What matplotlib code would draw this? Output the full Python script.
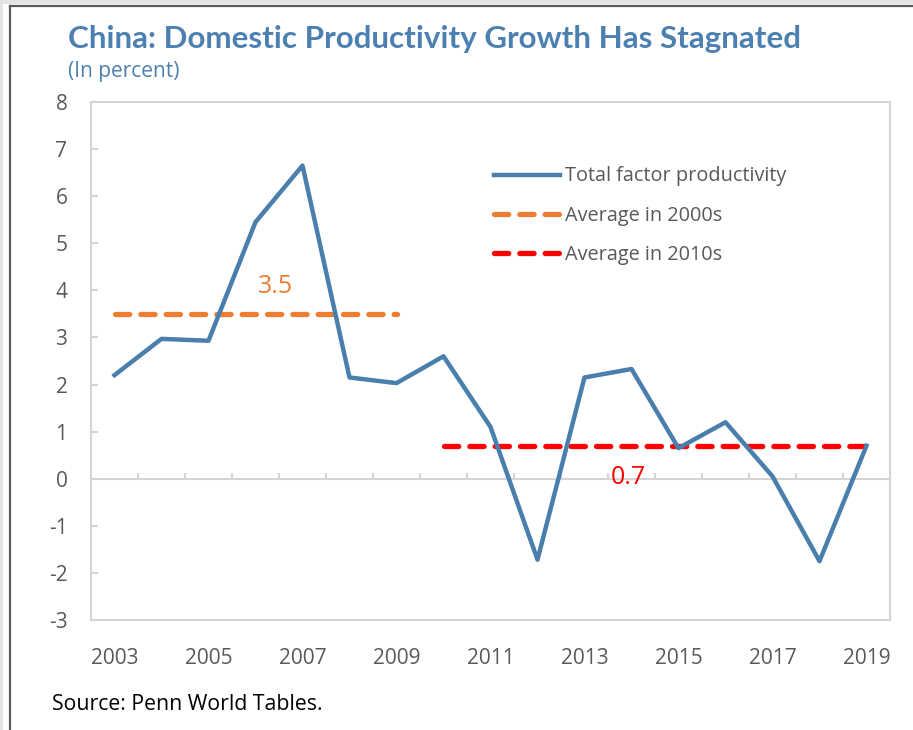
import matplotlib
matplotlib.use("Agg")
import matplotlib.pyplot as plt
from matplotlib.patches import Rectangle
from matplotlib.lines import Line2D
import numpy as np

years = list(range(2003, 2020))
tfp = [2.2, 2.97, 2.93, 5.45, 6.65, 2.15, 2.03, 2.6, 1.1, -1.72,
       2.15, 2.33, 0.65, 1.2, 0.05, -1.75, 0.7]
avg_2000s = 3.5
avg_2010s = 0.7
avg_2000s_years = (2003, 2009)
avg_2010s_years = (2010, 2019)

BLUE = "#4A7EAD"
ORANGE = "#ED7D31"
RED = "#FF0000"
TITLE = "#4C80B1"
GRID = "#D4D4D4"
TXT = "#595959"

plt.rcParams['font.family'] = ['Open Sans', 'DejaVu Sans']
plt.rcParams['axes.unicode_minus'] = False

fig = plt.figure(figsize=(9.13, 7.3), dpi=100)
W, H = 913, 730

# outer frame strips
fig.add_artist(Rectangle((0, 1 - 4 / H), 1, 4 / H, transform=fig.transFigure,
                         color="#E4E4E4", lw=0))
fig.add_artist(Rectangle((0, 0), 3 / W, 1, transform=fig.transFigure,
                         color="#E4E4E4", lw=0))
fig.add_artist(Line2D([10 / W, 1], [1 - 5.5 / H, 1 - 5.5 / H], transform=fig.transFigure,
                      color="#5A5A5A", lw=1.6))
fig.add_artist(Line2D([10 / W, 10 / W], [0, 1 - 5.5 / H], transform=fig.transFigure,
                      color="#5A5A5A", lw=1.6))

ax = fig.add_axes([91 / W, 1 - 620 / H, (890 - 91) / W, (620 - 102) / H])

x = np.arange(len(years))
pos = {y: i for i, y in enumerate(years)}

ax.plot(x, tfp, color=BLUE, lw=3.2, label="Total factor productivity", zorder=3)

x0, x1 = pos[avg_2000s_years[0]], pos[avg_2000s_years[1]]
ax.plot([x0, x1], [avg_2000s, avg_2000s], color=ORANGE, lw=3.8,
        dashes=(2.7, 2.1), dash_capstyle="round", label="Average in 2000s", zorder=2)
x0, x1 = pos[avg_2010s_years[0]], pos[avg_2010s_years[1]]
ax.plot([x0, x1], [avg_2010s, avg_2010s], color=RED, lw=3.8,
        dashes=(2.7, 2.1), dash_capstyle="round", label="Average in 2010s", zorder=2)

ax.text(3.42, 4.08, f"{avg_2000s:.1f}", color=ORANGE, fontsize=18, ha="center", va="center")
ax.text(10.94, 0.03, f"{avg_2010s:.1f}", color=RED, fontsize=18, ha="center", va="center")

# zero line with category boundary ticks
ax.axhline(0, color=GRID, lw=1.5, zorder=1)
ax.vlines(x[:-1] + 0.5, 0, 0.12, color=GRID, lw=1.5, zorder=1)

ax.set_xlim(-0.5, len(years) - 0.5)
ax.set_ylim(-3, 8)
ax.set_yticks(range(-3, 9))
ax.set_xticks(x[::2])
ax.set_xticklabels([str(y) for y in years[::2]])

for s in ax.spines.values():
    s.set_color(GRID)
    s.set_linewidth(1.5)

ax.tick_params(axis="y", direction="in", length=5, width=1.5, color=GRID,
               labelsize=15, labelcolor=TXT, pad=17)
ax.tick_params(axis="x", length=0, labelsize=15, labelcolor=TXT, pad=20)

leg = ax.legend(loc="upper left", bbox_to_anchor=(0.482, 0.91), frameon=False,
                fontsize=14.3, handlelength=3.33, handletextpad=0.25, labelspacing=0.97,
                labelcolor=TXT)

fig.text(68 / W, 1 - 39 / H, "China: Domestic Productivity Growth Has Stagnated",
         color=TITLE, fontsize=22.6, fontweight="bold", family="Lato", va="center")
fig.text(68 / W, 1 - 72 / H, "(In percent)", color=TITLE, fontsize=15, va="center")
fig.text(52 / W, 1 - 704 / H, "Source: Penn World Tables.", color="black",
         fontsize=15.3, va="center")

fig.savefig("out.png", dpi=100)
